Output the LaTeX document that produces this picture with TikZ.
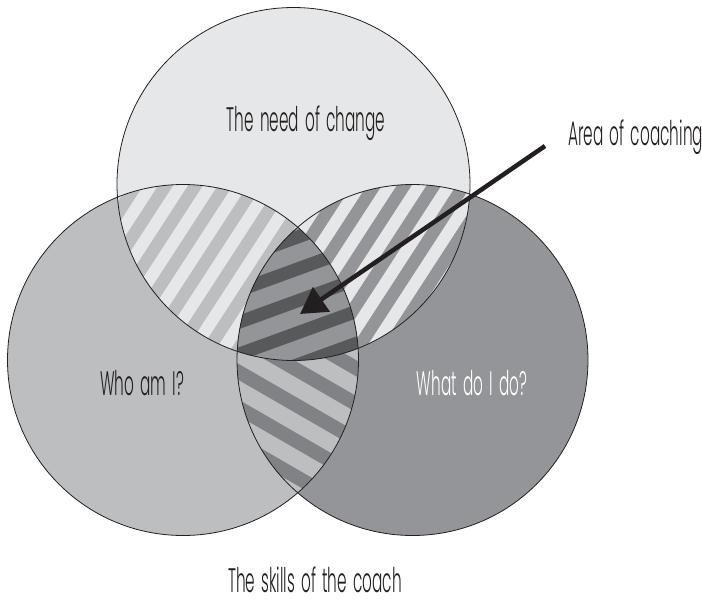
\documentclass[tikz,border=0pt]{standalone}
\usepackage{fontspec}
\setmainfont{Poppins Light}[FakeStretch=0.45, WordSpace=1.5]
\usetikzlibrary{arrows.meta}

\definecolor{toplight}{HTML}{E6E7E8}
\definecolor{leftgray}{HTML}{BCBEC0}
\definecolor{rightgray}{HTML}{939598}
\definecolor{lensgray}{HTML}{808285}
\definecolor{coredark}{HTML}{58595B}
\definecolor{ink}{HTML}{231F20}

% parallel stripes: angle, period, stripe width, colour
\newcommand\stripefill[4]{%
  \begin{scope}[shift={(300,300)}, rotate=#1]
    \foreach \k in {-16,...,16}
      \draw[line width=#3, #4] (-420,\k*#2) -- (420,\k*#2);
  \end{scope}}

\begin{document}
\begin{tikzpicture}[x=1pt,y=-1pt,
  rim/.style={draw=ink, line width=0.8pt},
  lbl/.style={font=\fontsize{34}{36}\selectfont, text=ink, anchor=base, inner sep=0pt}]

\useasboundingbox (0,0) rectangle (702,603);

\coordinate (ct) at (293.5,184);
\coordinate (cl) at (183,360);
\coordinate (cr) at (412.5,360);
\def\topR{176.5pt}
\def\sideR{175.5pt}

% plain discs
\fill[toplight] (ct) circle[radius=\topR];
\fill[leftgray] (cl) circle[radius=\sideR];
\fill[rightgray] (cr) circle[radius=\sideR];

% top and left overlap
\begin{scope}
  \clip (ct) circle[radius=\topR];
  \clip (cl) circle[radius=\sideR];
  \fill[toplight] (0,0) rectangle (702,603);
  \stripefill{57}{25}{12.5pt}{leftgray}
\end{scope}

% top and right overlap
\begin{scope}
  \clip (ct) circle[radius=\topR];
  \clip (cr) circle[radius=\sideR];
  \fill[toplight] (0,0) rectangle (702,603);
  \stripefill{57}{25}{12.5pt}{rightgray}
\end{scope}

% left and right overlap
\begin{scope}
  \clip (cl) circle[radius=\sideR];
  \clip (cr) circle[radius=\sideR];
  \fill[leftgray] (0,0) rectangle (702,603);
  \stripefill{-30}{31}{14pt}{lensgray}
\end{scope}

% common core: the area of coaching
\begin{scope}
  \clip (ct) circle[radius=\topR];
  \clip (cl) circle[radius=\sideR];
  \clip (cr) circle[radius=\sideR];
  \fill[rightgray] (0,0) rectangle (702,603);
  \stripefill{20}{30}{13pt}{coredark}
\end{scope}

% circle outlines
\draw[rim] (ct) circle[radius=\topR];
\draw[rim] (cl) circle[radius=\sideR];
\draw[rim] (cr) circle[radius=\sideR];

% labels
\node[lbl] (need) at (306,131) {The need of change};
\node[lbl, anchor=base west] (area) at (568,145) {Area of coaching};
\node[lbl] (who) at (142,395) {Who am I?};
\node[lbl, text=white] (what) at (472,395) {What do I do?};
\node[lbl] (skills) at (315,592) {The skills of the coach};

% pointer into the core
\coordinate (arrowtail) at (545,146);
\coordinate (arrowtip) at (300,314);
\draw[ink, line width=4.5pt, -{Triangle[length=26pt,width=29pt]}] (arrowtail) -- (arrowtip);

\end{tikzpicture}
\end{document}
